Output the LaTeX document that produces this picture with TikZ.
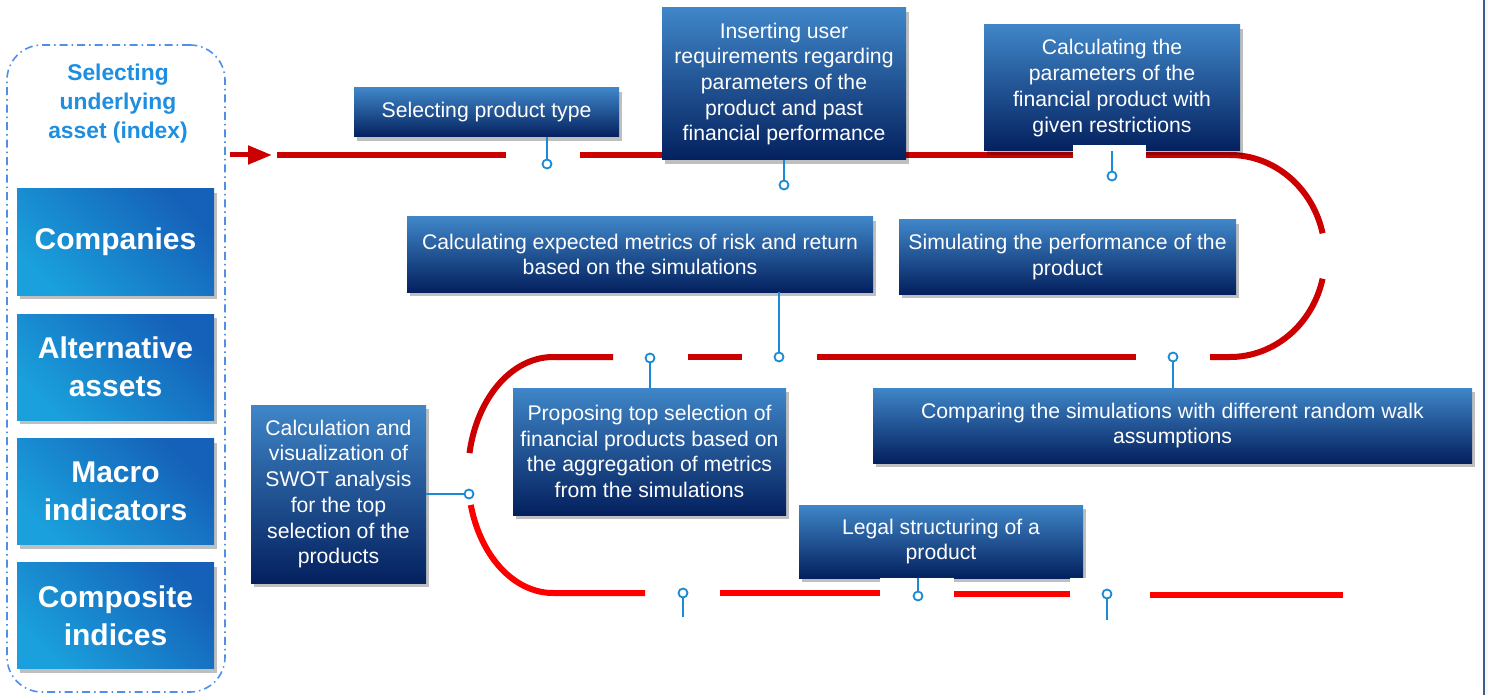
\documentclass[tikz,border=0pt]{standalone}
\usepackage{fontspec}
\setmainfont{Liberation Sans}
\usetikzlibrary{shadows,arrows.meta,calc}
\definecolor{boxtop}{HTML}{3F86C8}
\definecolor{boxbot}{HTML}{04205E}
\definecolor{lbdark}{HTML}{1560B8}
\definecolor{lblight}{HTML}{1AA0DC}
\definecolor{dred}{HTML}{CC0000}
\definecolor{bred}{HTML}{FF0000}
\definecolor{conblue}{HTML}{1A8AD4}
\definecolor{titleblue}{HTML}{1E8FE0}
\definecolor{panelblue}{HTML}{4F8FE8}
\definecolor{edgeblue}{HTML}{3A5F8F}
\tikzset{
  stepbox/.style={draw=none, top color=boxtop, bottom color=boxbot, text=white,
    align=center, font=\fontsize{21.2}{25.7}\selectfont, inner sep=0pt,
    drop shadow={shadow xshift=3pt, shadow yshift=-4pt, opacity=0.25, fill=black}},
  assetbox/.style={draw=none, top color=lbdark, bottom color=lblight, shading angle=-45,
    text=white, align=center, font=\fontsize{30}{38}\selectfont\bfseries,
    minimum width=197pt, minimum height=106pt, inner sep=0pt,
    drop shadow={shadow xshift=3pt, shadow yshift=-4pt, opacity=0.25, fill=black}},
  redline/.style={line width=6pt, draw=dred},
  brightline/.style={line width=6pt, draw=bred},
  dot/.style={circle, draw=conblue, fill=white, line width=1.8pt, minimum size=9pt, inner sep=0pt},
  conn/.style={draw=conblue, line width=1.8pt},
  patch/.style={fill=white, draw=none},
}
\begin{document}
\begin{tikzpicture}[x=1pt,y=-1pt]
\useasboundingbox (0,0) rectangle (1488,695);
\fill[white] (0,0) rectangle (1488,695);
\fill[black!3] (1484,0) rectangle (1488,695);
\draw[edgeblue, line width=1.2pt] (1484,0) -- (1484,695);

% left panel
\node[draw=panelblue, line width=1.6pt, dash pattern=on 8pt off 4pt on 1.5pt off 4pt,
  rounded corners=35pt, minimum width=218pt, minimum height=647pt, inner sep=0pt] (panel) at (116,368.5) {};
\node[text=titleblue, align=center, font=\fontsize{22.8}{29}\selectfont\bfseries] (title) at (118,104)
  {Selecting\\underlying\\asset (index)};
\node[assetbox] (companies) at (115.5,242) {Companies};
\node[assetbox] (alternative) at (115.5,367) {Alternative\\assets};
\node[assetbox] (macro) at (115.5,491.5) {Macro\\indicators};
\node[assetbox] (composite) at (115.5,615.5) {Composite\\indices};

% arrow
\coordinate (arrS) at (230,155);
\coordinate (arrE) at (272,155);
\draw[dred, line width=5pt, -{Triangle[length=24pt,width=18pt]}] (arrS) -- (arrE);

% red path: top
\draw[redline] (277,155) -- (506,155);
\draw[redline] (580,155) -- (1230,155);
\draw[redline] plot[domain=-90:-13, samples=40] ({1230+95*cos(\x)},{256+101*sin(\x)});
\draw[redline] plot[domain=13:90, samples=40] ({1230+95*cos(\x)},{256+101*sin(\x)}) -- (1210,357);
% middle
\draw[redline] (817,357) -- (1136,357);
\draw[redline] (688,357) -- (742,357);
\draw[redline] (613,357) -- (553,357) plot[domain=270:190.7, samples=40] ({553+85*cos(\x)},{475+118*sin(\x)});
% bottom
\draw[brightline] plot[domain=165.3:90, samples=40] ({553+85*cos(\x)},{475+118*sin(\x)}) -- (645,593);
\draw[brightline] (720,593) -- (881,593);
\draw[brightline] (954,594) -- (1070,594);
\draw[brightline] (1150,595) -- (1343,595);

% step boxes
\node[stepbox, minimum width=265pt, minimum height=49pt] (prodtype) at (486.5,112.5) {Selecting product type};
\node[stepbox, minimum width=244pt, minimum height=152pt] (inserting) at (784,84)
  {Inserting user\\requirements regarding\\parameters of the\\product and past\\financial performance};
\node[stepbox, minimum width=256pt, minimum height=126pt] (calcparam) at (1112,88)
  {Calculating the\\parameters of the\\financial product with\\given restrictions};
\node[stepbox, minimum width=466pt, minimum height=75pt] (expected) at (640,254.5)
  {Calculating expected metrics of risk and return\\based on the simulations};
\node[stepbox, minimum width=337pt, minimum height=74pt] (simulating) at (1067.5,257)
  {Simulating the performance of the\\product};
\node[stepbox, minimum width=273pt, minimum height=127pt] (proposing) at (649.5,451.5)
  {Proposing top selection of\\financial products based on\\the aggregation of metrics\\from the simulations};
\node[stepbox, minimum width=599pt, minimum height=75pt] (comparing) at (1172.5,425.5)
  {Comparing the simulations with different random walk\\assumptions};
\node[stepbox, minimum width=175pt, minimum height=178pt] (swot) at (338.5,494)
  {Calculation and\\visualization of\\SWOT analysis\\for the top\\selection of the\\products};
\node[stepbox, minimum width=284pt, minimum height=73pt] (legal) at (941,541.5)
  {Legal structuring of a\\product};

% white patches
\fill[patch] (1073,145) rectangle (1146,161);
\fill[patch] (880,578) rectangle (954,603);
\fill[patch] (1070,578) rectangle (1150,603);

% connectors
\node[dot] (c1) at (547,164) {};
\node[dot] (c2) at (784,185) {};
\node[dot] (c3) at (1112,176) {};
\node[dot] (c4) at (779,357) {};
\node[dot] (c5) at (650,358) {};
\node[dot] (c6) at (1173,357) {};
\node[dot] (c7) at (469,494) {};
\node[dot] (c8) at (918,596) {};
\node[dot] (c9) at (683,593) {};
\node[dot] (c10) at (1107,594) {};
\coordinate (e9) at (683,617);
\coordinate (e10) at (1107,620);

\draw[conn] (prodtype.south -| c1) -- (c1);
\draw[conn] (inserting.south -| c2) -- (c2);
\draw[conn] (calcparam.south -| c3) -- (c3);
\draw[conn] (expected.south -| c4) -- (c4);
\draw[conn] (proposing.north -| c5) -- (c5);
\draw[conn] (comparing.north -| c6) -- (c6);
\draw[conn] (swot.east |- c7) -- (c7);
\draw[conn] (legal.south -| c8) -- (c8);
\draw[conn] (c9) -- (e9);
\draw[conn] (c10) -- (e10);
\end{tikzpicture}
\end{document}
